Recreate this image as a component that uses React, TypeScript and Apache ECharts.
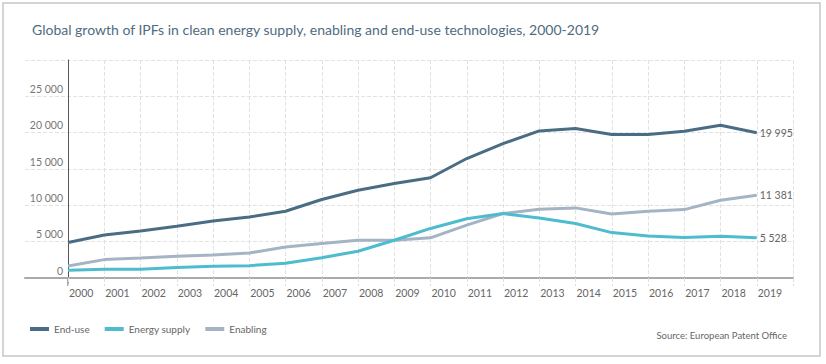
import React, { useEffect, useRef } from "react";
import * as echarts from "echarts";

const years = [2000, 2001, 2002, 2003, 2004, 2005, 2006, 2007, 2008, 2009, 2010, 2011, 2012, 2013, 2014, 2015, 2016, 2017, 2018, 2019];
const endUse = [4880, 5920, 6470, 7120, 7850, 8400, 9180, 10800, 12080, 13000, 13800, 16440, 18500, 20240, 20570, 19740, 19740, 20200, 21030, 19995];
const energySupply = [1060, 1200, 1200, 1430, 1610, 1700, 2020, 2800, 3680, 5190, 6820, 8150, 8870, 8260, 7490, 6250, 5780, 5560, 5740, 5528];
const enabling = [1650, 2530, 2750, 2990, 3170, 3440, 4270, 4740, 5190, 5190, 5530, 7280, 8870, 9460, 9650, 8800, 9200, 9410, 10700, 11381];

const seriesNames = ["End-use", "Energy supply", "Enabling"];
const colors = ["#4a6d85", "#4dbccf", "#a4b4c4"];

const fmt = (v: number) => {
  const s = String(Math.round(v));
  return s.replace(/\B(?=(\d{3})+(?!\d))/g, " ");
};

const FONT = "Lato";

export default function App() {
  const ref = useRef<HTMLDivElement>(null);
  useEffect(() => {
    document.body.style.margin = "0";
    const chart = echarts.init(ref.current!, undefined, { renderer: "svg" });
    const mk = (arr: number[]) => years.map((y, i) => [y, arr[i]]);
    const dataSets = [endUse, energySupply, enabling];
    chart.setOption({
      animation: false,
      textStyle: { fontFamily: FONT },
      title: [
        {
          text: "Global growth of IPFs in clean energy supply, enabling and end-use technologies, 2000-2019",
          left: 27,
          top: 17,
          textStyle: { color: "#4f6c80", fontSize: 14, fontWeight: "normal", fontFamily: FONT },
        },
        {
          text: "Source: European Patent Office",
          right: 34,
          top: 325,
          textStyle: { color: "#666", fontSize: 9.5, fontWeight: "normal", fontFamily: FONT },
        },
      ],
      legend: {
        data: seriesNames,
        left: 25,
        top: 319,
        icon: "rect",
        itemWidth: 19,
        itemHeight: 4,
        itemGap: 15,
        textStyle: { color: "#666", fontSize: 10, fontFamily: FONT },
      },
      grid: [
        { left: 68, right: 33, top: 60, bottom: 86 },
        { left: 25, right: 33, top: 60, bottom: 86 },
      ],
      xAxis: [
        {
          type: "value",
          gridIndex: 0,
          min: 2000,
          max: 2020,
          interval: 1,
          axisLine: { show: false },
          axisTick: { show: true, length: 8, lineStyle: { color: "#ddd", type: "dashed" } },
          splitLine: { show: true, lineStyle: { color: "#e2e2e2", type: "dashed" } },
          axisLabel: {
            color: "#666",
            fontSize: 10.5,
            align: "left",
            margin: 9,
            padding: [0, 0, 0, 1],
            formatter: (v: number) => (v >= 2020 ? "" : String(v)),
          },
        },
        {
          type: "value",
          gridIndex: 1,
          min: 0,
          max: 1,
          axisLine: { show: true, onZero: false, lineStyle: { color: "#aaa", width: 2 } },
          axisTick: { show: false },
          axisLabel: { show: false },
          splitLine: { show: false },
        },
      ],
      yAxis: [
        {
          type: "value",
          gridIndex: 0,
          min: 0,
          max: 30000,
          interval: 5000,
          axisLine: { show: true, lineStyle: { color: "#555", width: 1 } },
          axisTick: { show: false },
          splitLine: { show: false },
          axisLabel: {
            color: "#777",
            fontSize: 10.5,
            margin: 5,
            verticalAlign: "bottom",
            padding: [0, 0, 2, 0],
            formatter: (v: number) => (v >= 30000 ? "" : fmt(v)),
          },
        },
        {
          type: "value",
          gridIndex: 1,
          min: 0,
          max: 30000,
          interval: 5000,
          axisLine: { show: false },
          axisTick: { show: false },
          axisLabel: { show: false },
          splitLine: { show: true, lineStyle: { color: "#e2e2e2", type: "dashed" } },
        },
      ],
      series: seriesNames.map((name, i) => ({
        name,
        type: "line",
        xAxisIndex: 0,
        yAxisIndex: 0,
        data: mk(dataSets[i]),
        showSymbol: false,
        symbol: "none",
        z: 5 - i,
        lineStyle: { color: colors[i], width: 3 },
        itemStyle: { color: colors[i] },
        endLabel: {
          show: true,
          distance: 3,
          color: "#666",
          fontSize: 10.5,
          fontFamily: FONT,
          formatter: (p: any) => fmt(p.value[1]),
        },
      })),
    });
    const p0 = chart.convertToPixel({ xAxisIndex: 0, yAxisIndex: 0 }, [2000, 0]) as number[];
    chart.setOption({
      graphic: [
        {
          type: "rect",
          shape: { x: 3, y: 3, width: 817, height: 353 },
          style: { fill: "none", stroke: "#c6c6c6", lineWidth: 1.5 },
          silent: true,
        },
        {
          type: "line",
          shape: { x1: p0[0], y1: p0[1], x2: p0[0], y2: p0[1] + 8 },
          style: { stroke: "#555", lineWidth: 1 },
          silent: true,
        },
      ],
    });
    return () => chart.dispose();
  }, []);
  return <div ref={ref} style={{ width: 826, height: 364 }} />;
}
